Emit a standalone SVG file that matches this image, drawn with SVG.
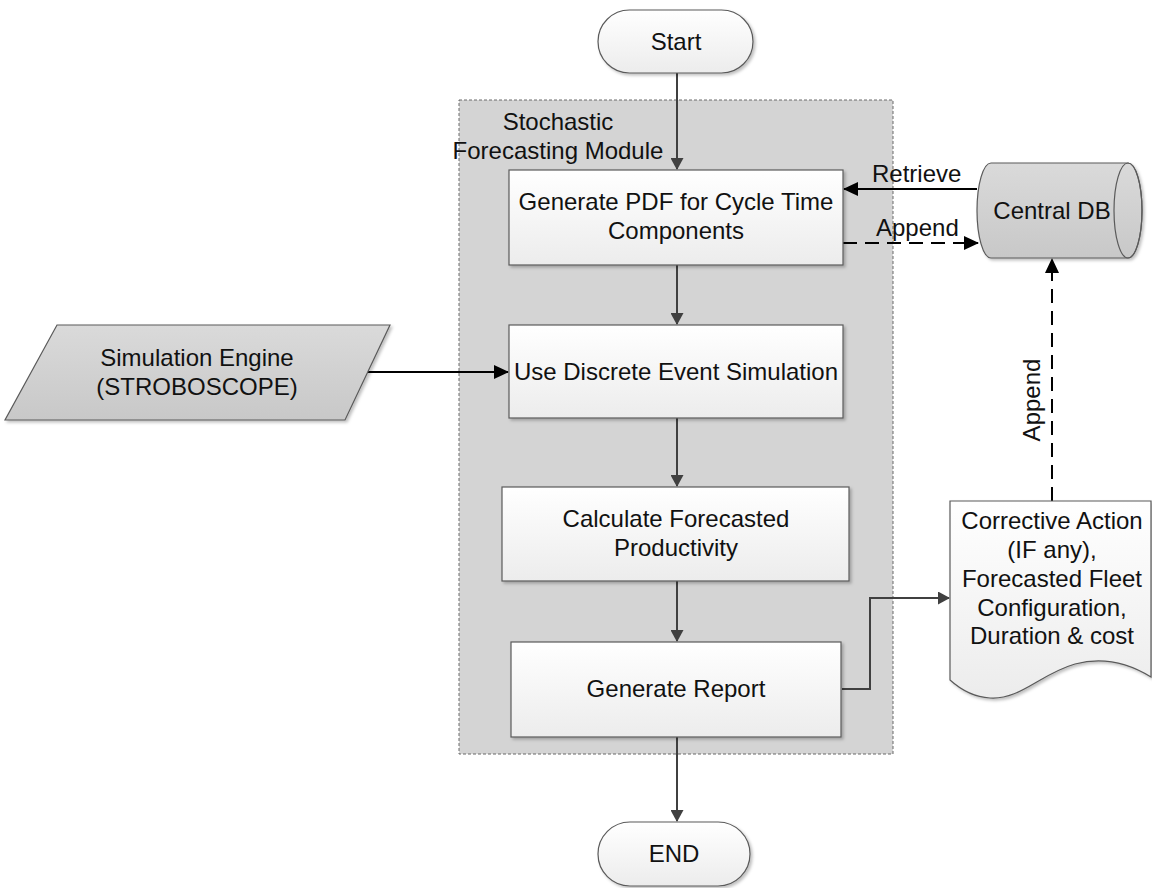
<svg xmlns="http://www.w3.org/2000/svg" width="1152" height="888" viewBox="0 0 1152 888">
<defs>
<linearGradient id="gBox" x1="0" y1="0" x2="0" y2="1"><stop offset="0" stop-color="#ffffff"/><stop offset="1" stop-color="#ececec"/></linearGradient>
<linearGradient id="gGray" x1="0" y1="0" x2="0" y2="1"><stop offset="0" stop-color="#dadada"/><stop offset="1" stop-color="#c8c8c8"/></linearGradient>
<filter id="sh" x="-10%" y="-10%" width="130%" height="130%"><feDropShadow dx="2" dy="2" stdDeviation="1.5" flood-color="#000" flood-opacity="0.25"/></filter>
<marker id="aGray" markerWidth="12" markerHeight="13" refX="11" refY="6.5" orient="auto" markerUnits="userSpaceOnUse" viewBox="0 0 12 13"><path d="M0,0 L12,6.5 L0,13 Z" fill="#404040"/></marker>
<marker id="aBlack" markerWidth="15" markerHeight="14" refX="14" refY="7" orient="auto" markerUnits="userSpaceOnUse" viewBox="0 0 15 14"><path d="M0,0 L15,7 L0,14 Z" fill="#000"/></marker>
</defs>
<style>
text{font-family:"Liberation Sans",Arial,sans-serif;font-size:24px;fill:#111;}
.c{text-anchor:middle;}
.box{fill:url(#gBox);stroke:#5a5a5a;stroke-width:1.2;filter:url(#sh);}
.gray{fill:url(#gGray);stroke:#5a5a5a;stroke-width:1.2;filter:url(#sh);}
.flow{fill:none;stroke:#404040;stroke-width:2;marker-end:url(#aGray);}
.blk{fill:none;stroke:#000;stroke-width:2;marker-end:url(#aBlack);}
.dash{stroke-dasharray:14 8;}
</style>
<rect width="1152" height="888" fill="#fff"/>

<g id="module">
<rect x="459" y="100" width="434" height="654" fill="#d4d4d4" stroke="#6a6a6a" stroke-width="1" stroke-dasharray="3 2"/>
<text class="c" x="558" y="130">Stochastic</text>
<text class="c" x="558" y="159">Forecasting Module</text>
</g>

<g id="connectors">
<line class="flow" x1="677" y1="73" x2="677" y2="169"/>
<line class="flow" x1="677" y1="265" x2="677" y2="324"/>
<line class="flow" x1="677" y1="418" x2="677" y2="486"/>
<line class="flow" x1="677" y1="581" x2="677" y2="641"/>
<line class="flow" x1="677" y1="737" x2="677" y2="821"/>
<polyline class="flow" points="842,689 870,689 870,598 949,598"/>
<line class="blk" x1="365" y1="372" x2="508" y2="372"/>
<line class="blk" x1="977" y1="189" x2="844" y2="189"/>
<line class="blk dash" x1="843" y1="243" x2="978" y2="243"/>
<line class="blk dash" x1="1052" y1="501" x2="1052" y2="259"/>
<text x="872" y="182">Retrieve</text>
<text x="876" y="236">Append</text>
<text class="c" transform="translate(1040,400) rotate(-90)">Append</text>
</g>

<g id="start">
<rect class="box" x="598" y="10" width="155" height="63" rx="31.5"/>
<text class="c" x="676" y="50">Start</text>
</g>

<g id="genpdf">
<rect class="box" x="509" y="170" width="334" height="95"/>
<text class="c" x="676" y="210">Generate PDF for Cycle Time</text>
<text class="c" x="676" y="239">Components</text>
</g>

<g id="des">
<rect class="box" x="509" y="325" width="334" height="93"/>
<text class="c" x="676" y="380">Use Discrete Event Simulation</text>
</g>

<g id="calc">
<rect class="box" x="502" y="487" width="347" height="94"/>
<text class="c" x="676" y="527">Calculate Forecasted</text>
<text class="c" x="676" y="556">Productivity</text>
</g>

<g id="report">
<rect class="box" x="511" y="642" width="330" height="95"/>
<text class="c" x="676" y="697">Generate Report</text>
</g>

<g id="end">
<rect class="box" x="598" y="822" width="152" height="64" rx="32"/>
<text class="c" x="674" y="862">END</text>
</g>

<g id="sim">
<polygon class="gray" points="57,325 390,325 345,420 5,420"/>
<text class="c" x="197" y="366">Simulation Engine</text>
<text class="c" x="197" y="395">(STROBOSCOPE)</text>
</g>

<g id="db">
<path class="gray" d="M991,163 L1128,163 A14,47.5 0 0 1 1128,258 L991,258 A14,47.5 0 0 1 991,163 Z"/>
<ellipse cx="1128" cy="210.5" rx="14" ry="47.5" fill="none" stroke="#5a5a5a" stroke-width="1.2"/>
<text class="c" x="1052" y="219">Central DB</text>
</g>

<g id="doc">
<path class="box" d="M950,501 L1151,501 L1151,677 C1130,664 1105,656 1075,664 C1040,674 1020,700 990,698 C972,697 960,689 950,680 Z"/>
<text class="c" x="1052" y="529">Corrective Action</text>
<text class="c" x="1052" y="558">(IF any),</text>
<text class="c" x="1052" y="587">Forecasted Fleet</text>
<text class="c" x="1052" y="616">Configuration,</text>
<text class="c" x="1052" y="644">Duration &amp; cost</text>
</g>
</svg>
